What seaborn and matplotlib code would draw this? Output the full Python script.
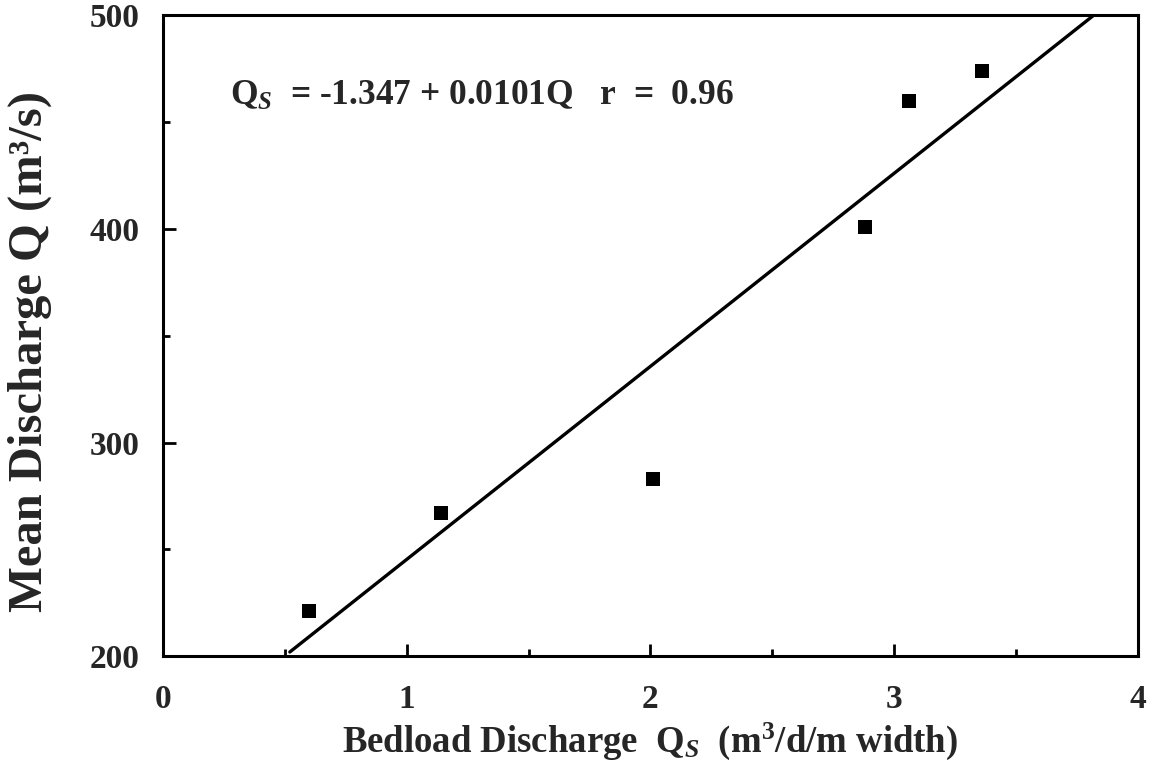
import matplotlib
matplotlib.use("Agg")
import numpy as np
import pandas as pd
import matplotlib.pyplot as plt
import seaborn as sns
from matplotlib.ticker import MultipleLocator

# data
bedload = [0.60, 1.14, 2.01, 2.88, 3.06, 3.36]
discharge = [221, 267, 283, 401, 460, 474]
fit_x = [0.52, 3.82]
fit_y = [202, 500]

sns.set_theme(style="ticks")
plt.rcParams['font.family'] = ['Liberation Serif', 'DejaVu Serif']
plt.rcParams['font.weight'] = 'bold'
plt.rcParams['mathtext.fontset'] = 'custom'
plt.rcParams['mathtext.rm'] = 'Liberation Serif:bold'
plt.rcParams['mathtext.it'] = 'Liberation Serif:bold:italic'
plt.rcParams['mathtext.bf'] = 'Liberation Serif:bold'

fig = plt.figure(figsize=(11.49, 7.64), dpi=100)
ax = fig.add_axes([0.142, 0.141, 0.848, 0.839])

pts = pd.DataFrame({"Qs": bedload, "Q": discharge})
sns.scatterplot(data=pts, x="Qs", y="Q", marker="s", s=110, color="black",
                edgecolor="black", linewidth=0, ax=ax)
sns.lineplot(x=fit_x, y=fit_y, color="black", linewidth=2.4, ax=ax)

ax.set_xlim(0, 4)
ax.set_ylim(200, 500)
ax.xaxis.set_major_locator(MultipleLocator(1))
ax.xaxis.set_minor_locator(MultipleLocator(0.5))
ax.yaxis.set_major_locator(MultipleLocator(100))
ax.yaxis.set_minor_locator(MultipleLocator(50))
ax.tick_params(which="both", direction="in", width=2, color="black")
ax.tick_params(which="major", length=9)
ax.tick_params(which="minor", length=5)
ax.tick_params(axis="x", labelsize=24, pad=20)
ax.tick_params(axis="y", labelsize=24, pad=17)
for lab in ax.get_xticklabels() + ax.get_yticklabels():
    lab.set_fontweight("bold")
for sp in ax.spines.values():
    sp.set_linewidth(2.2)
    sp.set_color("black")

ax.set_xlabel(r"Bedload Discharge  Q$_{\mathit{S}}$  (m$^{\mathrm{3}}$/d/m width)",
              fontsize=26.5, fontweight="bold", labelpad=4)
ax.set_ylabel("Mean Discharge Q (m³/s)", fontsize=35, fontweight="bold")
ax.yaxis.set_label_coords(-0.114, 0.475)

ax.text(0.275, 462, r"Q$_{\mathit{S}}$  = -1.347 + 0.0101Q   r  =  0.96",
        fontsize=25.5, fontweight="bold", va="center", ha="left")

fig.savefig("out.png", dpi=100)
